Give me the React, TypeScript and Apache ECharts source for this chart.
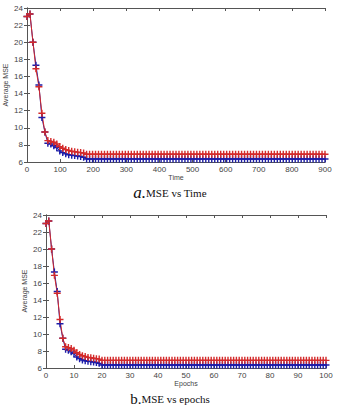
import React, { useEffect, useRef } from "react";
import * as echarts from "echarts";

// Epoch index 0..100; the time run records one epoch every 9 time units.
const epochs: number[] = Array.from({ length: 101 }, (_, i) => i);
const timeStep = 9;

// Average MSE per epoch, red curve
const mseRed: number[] = [
  23.0, 23.3, 20.0, 16.9, 14.8, 11.7, 9.5, 8.5, 8.4, 8.3,
  8.1, 7.8, 7.6, 7.45, 7.35, 7.25, 7.2, 7.15, 7.1, 7.05,
  6.9, 6.9, 6.9, 6.9, 6.9, 6.9, 6.9, 6.9, 6.9, 6.9,
  6.9, 6.9, 6.9, 6.9, 6.9, 6.9, 6.9, 6.9, 6.9, 6.9,
  6.9, 6.9, 6.9, 6.9, 6.9, 6.9, 6.9, 6.9, 6.9, 6.9,
  6.9, 6.9, 6.9, 6.9, 6.9, 6.9, 6.9, 6.9, 6.9, 6.9,
  6.9, 6.9, 6.9, 6.9, 6.9, 6.9, 6.9, 6.9, 6.9, 6.9,
  6.9, 6.9, 6.9, 6.9, 6.9, 6.9, 6.9, 6.9, 6.9, 6.9,
  6.9, 6.9, 6.9, 6.9, 6.9, 6.9, 6.9, 6.9, 6.9, 6.9,
  6.9, 6.9, 6.9, 6.9, 6.9, 6.9, 6.9, 6.9, 6.9, 6.9,
  6.9,
];

// Average MSE per epoch, blue curve
const mseBlue: number[] = [
  23.0, 23.3, 20.0, 17.3, 15.0, 11.2, 9.5, 8.2, 8.1, 7.9,
  7.7, 7.3, 7.1, 6.95, 6.85, 6.8, 6.75, 6.7, 6.65, 6.55,
  6.35, 6.35, 6.35, 6.35, 6.35, 6.35, 6.35, 6.35, 6.35, 6.35,
  6.35, 6.35, 6.35, 6.35, 6.35, 6.35, 6.35, 6.35, 6.35, 6.35,
  6.35, 6.35, 6.35, 6.35, 6.35, 6.35, 6.35, 6.35, 6.35, 6.35,
  6.35, 6.35, 6.35, 6.35, 6.35, 6.35, 6.35, 6.35, 6.35, 6.35,
  6.35, 6.35, 6.35, 6.35, 6.35, 6.35, 6.35, 6.35, 6.35, 6.35,
  6.35, 6.35, 6.35, 6.35, 6.35, 6.35, 6.35, 6.35, 6.35, 6.35,
  6.35, 6.35, 6.35, 6.35, 6.35, 6.35, 6.35, 6.35, 6.35, 6.35,
  6.35, 6.35, 6.35, 6.35, 6.35, 6.35, 6.35, 6.35, 6.35, 6.35,
  6.35,
];

const panelCaptions = [
  { tag: "a.", text: "MSE vs Time", italic: true },
  { tag: "b.", text: "MSE vs epochs", italic: false },
];
const xAxisNames = ["Time", "Epochs"];
const yAxisName = "Average MSE";

const RED = "#d42a2a";
const BLUE = "#1c1ca8";
const AXIS = "#555";
const LABEL = "#444";
const SANS = "Liberation Sans, Arial, sans-serif";
const SERIF = "Liberation Serif, Times New Roman, serif";
const PLUS = "path://M4,0h2v4h4v2h-4v4h-2v-4h-4v-2h4z";

export default function App() {
  const ref = useRef<HTMLDivElement>(null);

  useEffect(() => {
    if (!ref.current) return;
    const chart = echarts.init(ref.current, undefined, { renderer: "svg" });

    const tickLabel = { fontFamily: SANS, fontSize: 8, color: LABEL };
    const nameStyle = { fontFamily: SANS, fontSize: 7, color: LABEL };

    const grids = [
      { left: 27, right: 15, top: 8, height: 154 },
      { left: 46, right: 14, top: 215, height: 153 },
    ];

    const xAxes: any[] = [];
    const yAxes: any[] = [];
    const xMax = [900, 100];
    const xInt = [100, 10];

    grids.forEach((_, g) => {
      const line = { show: true, lineStyle: { color: AXIS, width: 1 } };
      const tick = { show: true, inside: true, length: 3, lineStyle: { color: AXIS } };
      xAxes.push({
        type: "value", gridIndex: g, min: 0, max: xMax[g], interval: xInt[g],
        name: xAxisNames[g], nameLocation: "middle", nameGap: 8, nameTextStyle: nameStyle,
        axisLine: line, axisTick: tick,
        axisLabel: { ...tickLabel, margin: 3 }, splitLine: { show: false },
      });
      xAxes.push({
        type: "value", gridIndex: g, position: "top", min: 0, max: xMax[g], interval: xInt[g],
        axisLine: line, axisTick: tick, axisLabel: { show: false }, splitLine: { show: false },
      });
      yAxes.push({
        type: "value", gridIndex: g, min: 6, max: 24, interval: 2,
        axisLine: line, axisTick: tick,
        axisLabel: { ...tickLabel, margin: 4 }, splitLine: { show: false },
      });
      yAxes.push({
        type: "value", gridIndex: g, position: "right", min: 6, max: 24, interval: 2,
        axisLine: line, axisTick: tick, axisLabel: { show: false }, splitLine: { show: false },
      });
    });

    const mk = (g: number, name: string, vals: number[], color: string, xs: number[]) => ({
      type: "line", name, xAxisIndex: g * 2, yAxisIndex: g * 2,
      data: xs.map((x, i) => [x, vals[i]]),
      symbol: PLUS, symbolSize: 7, showAllSymbol: true,
      itemStyle: { color },
      lineStyle: { color, width: 1 },
    });

    const times = epochs.map((e) => e * timeStep);
    const series = [
      mk(0, "blue", mseBlue, BLUE, times),
      mk(0, "red", mseRed, RED, times),
      mk(1, "blue", mseBlue, BLUE, epochs),
      mk(1, "red", mseRed, RED, epochs),
    ];

    const captionY = [193, 400];
    const captions = panelCaptions.map((c, i) => ({
      type: "text",
      left: "center",
      top: captionY[i] - 9,
      style: {
        text: `{t|${c.tag}}{m|${c.text}}`,
        rich: {
          t: {
            fontFamily: SERIF,
            fontStyle: c.italic ? "italic" : "normal",
            fontSize: c.italic ? 17 : 15, fill: "#111",
          },
          m: { fontFamily: SERIF, fontSize: 11, fill: "#111" },
        },
      },
    }));

    // Rotated y-axis titles, placed beside each panel
    const yTitlePos = [
      { x: 5, y: 85 },
      { x: 24, y: 291 },
    ];
    const yTitles = yTitlePos.map((p) => ({
      type: "text",
      x: p.x,
      y: p.y,
      rotation: Math.PI / 2,
      style: {
        text: yAxisName, fontFamily: SANS, fontSize: 7, fill: LABEL,
        align: "center", verticalAlign: "middle",
      },
    }));

    chart.setOption({
      animation: false,
      backgroundColor: "#fff",
      grid: grids,
      xAxis: xAxes,
      yAxis: yAxes,
      series,
      graphic: [...captions, ...yTitles],
    });

    return () => chart.dispose();
  }, []);

  return (
    <div
      ref={ref}
      style={{ position: "fixed", left: 0, top: 0, width: 340, height: 409, background: "#fff" }}
    />
  );
}
